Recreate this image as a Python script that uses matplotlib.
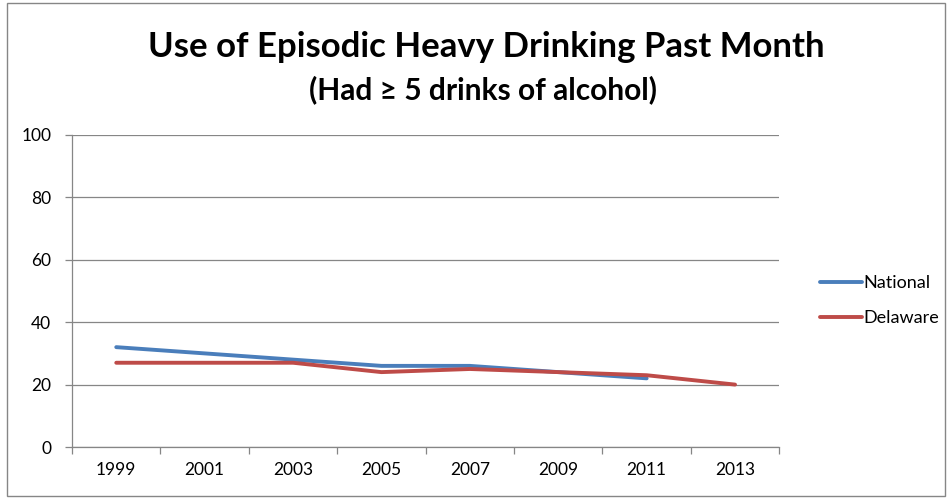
import numpy as np
import matplotlib
matplotlib.use('Agg')
import matplotlib.pyplot as plt
from matplotlib.patches import Rectangle

plt.rcParams['font.family'] = ['Lato', 'DejaVu Sans']

years = ["1999", "2001", "2003", "2005", "2007", "2009", "2011", "2013"]
national = [32, 30, 28, 26, 26, 24, 22, np.nan]
delaware = [27, 27, 27, 24, 25, 24, 23, 20]

fig = plt.figure(figsize=(9.48, 4.98), dpi=100)
ax = fig.add_axes([0.076, 0.1024, 0.746, 0.6266])

x = np.arange(len(years))
ax.plot(x, national, color='#4A7EBB', linewidth=2.8, label='National', solid_capstyle='round')
ax.plot(x, delaware, color='#BE4B48', linewidth=2.8, label='Delaware', solid_capstyle='round')

ax.set_xlim(-0.5, len(years) - 0.5)
ax.set_ylim(0, 100)
ax.set_yticks(range(0, 101, 20))
ax.yaxis.grid(True, color='#868686', linewidth=0.9)
ax.set_axisbelow(True)

ax.set_xticks(x)
ax.set_xticklabels(years)
ax.set_xticks(np.arange(-0.5, len(years), 1), minor=True)
ax.tick_params(axis='x', which='major', length=0, pad=11, labelsize=12.5)
ax.tick_params(axis='x', which='minor', length=5, color='#868686', width=0.9)
ax.tick_params(axis='y', length=5, color='#868686', width=0.9, labelsize=12.5, pad=10)

for s in ['top', 'right']:
    ax.spines[s].set_visible(False)
for s in ['left', 'bottom']:
    ax.spines[s].set_color('#868686')
    ax.spines[s].set_linewidth(0.9)

leg = ax.legend(loc='center left', bbox_to_anchor=(1.035, 0.47), frameon=False,
                fontsize=13, handlelength=2.3, handletextpad=0.1, labelspacing=1.05)

fig.text(0.513, 0.905, "Use of Episodic Heavy Drinking Past Month", ha='center', va='center',
         fontsize=25, fontweight='bold')
fig.text(0.509, 0.82, "(Had \u2265 5 drinks of alcohol)", ha='center', va='center',
         fontsize=21.5, fontweight='bold')

fig.patches.append(Rectangle((0.007, 0.004), 0.99, 0.99, transform=fig.transFigure,
                             fill=False, edgecolor='#868686', linewidth=1))

fig.savefig('out.png', dpi=100)
